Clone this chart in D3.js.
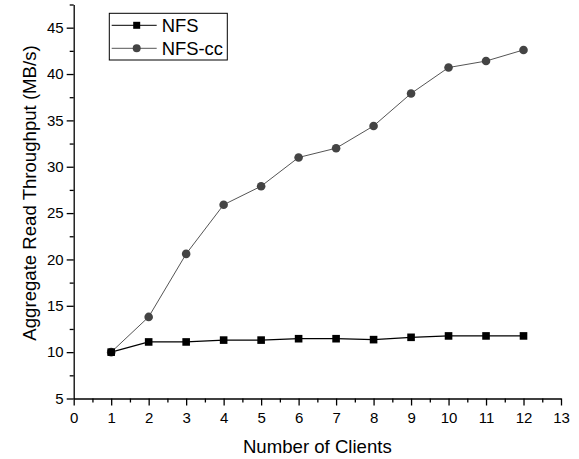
<!DOCTYPE html>
<html>
<head>
<meta charset="utf-8">
<script src="https://cdn.jsdelivr.net/npm/d3@7"></script>
<style>
  body { margin: 0; background: #fff; }
  svg { font-family: Arial, "Liberation Sans", sans-serif; }
</style>
</head>
<body>
<svg id="chart"></svg>
<script>
// number of clients
const clients = [1, 2, 3, 4, 5, 6, 7, 8, 9, 10, 11, 12];
// aggregate read throughput, MB/s
const nfs = [10.0, 11.1, 11.1, 11.3, 11.3, 11.45, 11.45, 11.35, 11.6, 11.75, 11.75, 11.75];
const nfsCc = [10.0, 13.8, 20.6, 25.9, 27.9, 31.0, 32.0, 34.4, 37.9, 40.7, 41.4, 42.6];
const xTicks = d3.range(0, 14);
const yTicks = [5, 10, 15, 20, 25, 30, 35, 40, 45];

const width = 579, height = 459;
const margin = { top: 4.5, right: 18, bottom: 60.5, left: 73.7 };
const w = 561 - margin.left, h = 398.5 - margin.top;

const svg = d3.select("#chart")
    .attr("width", width)
    .attr("height", height);

const g = svg.append("g")
    .attr("transform", `translate(${margin.left},${margin.top})`);

const x = d3.scaleLinear().domain([0, 13]).range([0, w]);
const y = d3.scaleLinear().domain([5, 47.5]).range([h, 0]);

// minor ticks first
g.append("g")
    .attr("transform", `translate(0,${h})`)
    .call(d3.axisBottom(x).tickValues(d3.range(0.5, 13, 1)).tickSize(4).tickFormat(""))
    .call(a => a.select(".domain").remove());
g.append("g")
    .call(d3.axisLeft(y).tickValues(d3.range(7.5, 48, 5)).tickSize(4).tickFormat(""))
    .call(a => a.select(".domain").remove());

// major axes
const xAxis = g.append("g")
    .attr("transform", `translate(0,${h})`)
    .call(d3.axisBottom(x).tickValues(xTicks).tickSize(7).tickSizeOuter(0).tickPadding(7));
const yAxis = g.append("g")
    .call(d3.axisLeft(y).tickValues(yTicks).tickSize(7).tickSizeOuter(0).tickPadding(3));

[xAxis, yAxis].forEach(a => {
    a.selectAll("text").style("font-size", "15px").attr("fill", "#000");
});
g.selectAll("line, .domain").attr("stroke", "#000").attr("stroke-width", 1.3);

// axis titles
svg.append("text")
    .attr("x", margin.left + w / 2)
    .attr("y", 453)
    .attr("text-anchor", "middle")
    .style("font-size", "18.6px")
    .text("Number of Clients");

svg.append("text")
    .attr("transform", "translate(36,193) rotate(-90)")
    .attr("text-anchor", "middle")
    .style("font-size", "18.6px")
    .text("Aggregate Read Throughput (MB/s)");

const line = d3.line()
    .x((d, i) => x(clients[i]))
    .y(d => y(d));

// NFS-cc series (gray, circles)
g.append("path")
    .datum(nfsCc)
    .attr("fill", "none")
    .attr("stroke", "#555")
    .attr("stroke-width", 1)
    .attr("d", line);

// NFS series (black, squares)
g.append("path")
    .datum(nfs)
    .attr("fill", "none")
    .attr("stroke", "#000")
    .attr("stroke-width", 1.2)
    .attr("d", line);

g.selectAll(".cc")
    .data(nfsCc)
    .enter().append("circle")
    .attr("cx", (d, i) => x(clients[i]))
    .attr("cy", d => y(d))
    .attr("r", 4.3)
    .attr("fill", "#444");

g.selectAll(".sq")
    .data(nfs)
    .enter().append("rect")
    .attr("x", (d, i) => x(clients[i]) - 3.8)
    .attr("y", d => y(d) - 3.8)
    .attr("width", 7.6)
    .attr("height", 7.6)
    .attr("fill", "#000");

// legend
const legend = svg.append("g").attr("transform", "translate(109.3,13.3)");
legend.append("rect")
    .attr("width", 118)
    .attr("height", 46.7)
    .attr("fill", "#fff")
    .attr("stroke", "#000")
    .attr("stroke-width", 1);

const entries = [
    { name: "NFS", color: "#000", shape: "square" },
    { name: "NFS-cc", color: "#555", shape: "circle" }
];
entries.forEach((e, i) => {
    const cy = 12 + i * 23;
    const row = legend.append("g").attr("transform", `translate(0,${cy})`);
    row.append("line")
        .attr("x1", 2.4).attr("x2", 47.4)
        .attr("stroke", e.color)
        .attr("stroke-width", 1);
    if (e.shape === "square") {
        row.append("rect").attr("x", 23.9).attr("y", -3.5).attr("width", 7).attr("height", 7).attr("fill", "#000");
    } else {
        row.append("circle").attr("cx", 27.4).attr("r", 4).attr("fill", "#444");
    }
    row.append("text")
        .attr("x", 52.4)
        .attr("dy", "0.36em")
        .style("font-size", "18.4px")
        .text(e.name);
});
</script>
</body>
</html>
